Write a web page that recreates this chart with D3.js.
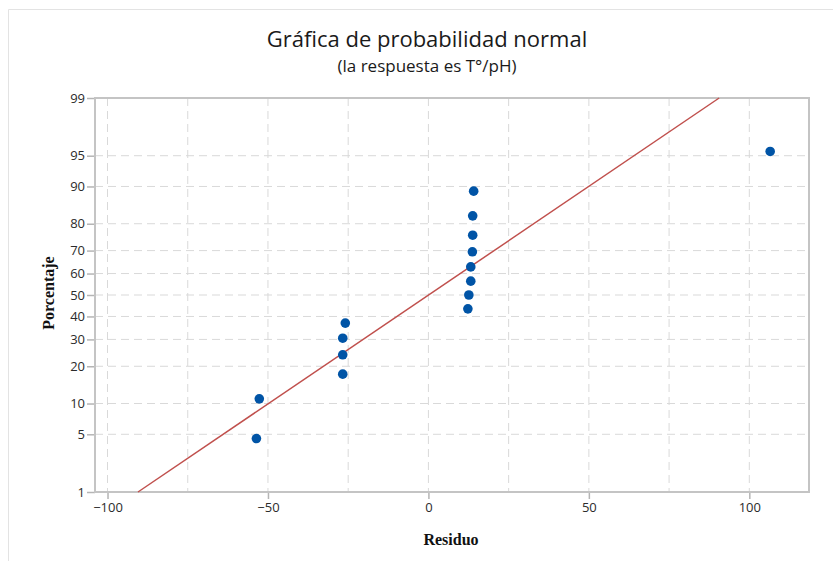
<!DOCTYPE html>
<html>
<head>
<meta charset="utf-8">
<script src="https://cdn.jsdelivr.net/npm/d3@7"></script>
<style>
  body { margin: 0; background: #fff; }
  svg { display: block; }
  .tick text { font-family: "Open Sans", "Noto Sans", sans-serif; font-size: 13px; fill: #2b2b2b; }
</style>
</head>
<body>
<div id="chart"></div>
<script>
// residuals (x) and plotted percentages (y)
const residuals = [-53.6, -52.7, -26.7, -26.7, -26.7, -25.9, 12.3, 12.6, 13.2, 13.2, 13.7, 13.8, 13.8, 14.1, 106.5];
const percents = [4.5, 11.0, 17.5, 24.0, 30.5, 37.0, 43.5, 50.0, 56.5, 63.0, 69.5, 76.0, 82.5, 89.0, 95.5];

// fitted normal line, end points at 1% and 99%
const fitResidual = [-90.5, 90.6];
const fitPercent = [1, 99];

const xTicks = [-100, -50, 0, 50, 100];
const xGrid = [-100, -75, -50, -25, 0, 25, 50, 75, 100];
const yTicks = [1, 5, 10, 20, 30, 40, 50, 60, 70, 80, 90, 95, 99];
const yGrid = [5, 10, 20, 30, 40, 50, 60, 70, 80, 90, 95];

const W = 833, H = 561;
const margin = { top: 98, right: 24, bottom: 69, left: 95 };
const width = W - margin.left - margin.right;
const height = H - margin.top - margin.bottom;

// inverse normal cdf (Acklam)
function probit(p) {
    const a = [-39.69683028665376, 220.9460984245205, -275.9285104469687, 138.3577518672690, -30.66479806614716, 2.506628277459239];
    const b = [-54.47609879822406, 161.5858368580409, -155.6989798598866, 66.80131188771972, -13.28068155288572];
    const c = [-0.007784894002430293, -0.3223964580411365, -2.400758277161838, -2.549732539343734, 4.374664141464968, 2.938163982698783];
    const d = [0.007784695709041462, 0.3224671290700398, 2.445134137142996, 3.754408661907416];
    const pl = 0.02425;
    let q, r;
    if (p < pl) {
        q = Math.sqrt(-2 * Math.log(p));
        return (((((c[0] * q + c[1]) * q + c[2]) * q + c[3]) * q + c[4]) * q + c[5]) /
            ((((d[0] * q + d[1]) * q + d[2]) * q + d[3]) * q + 1);
    }
    if (p > 1 - pl) {
        q = Math.sqrt(-2 * Math.log(1 - p));
        return -(((((c[0] * q + c[1]) * q + c[2]) * q + c[3]) * q + c[4]) * q + c[5]) /
            ((((d[0] * q + d[1]) * q + d[2]) * q + d[3]) * q + 1);
    }
    q = p - 0.5;
    r = q * q;
    return (((((a[0] * r + a[1]) * r + a[2]) * r + a[3]) * r + a[4]) * r + a[5]) * q /
        (((((b[0] * r + b[1]) * r + b[2]) * r + b[3]) * r + b[4]) * r + 1);
}

const svg = d3.select("#chart")
    .append("svg")
    .attr("width", W)
    .attr("height", H);

// outer frame (left and top edges only visible)
svg.append("path")
    .attr("d", `M8.5,${H} V9.5 H${W}`)
    .attr("fill", "none")
    .attr("stroke", "#e3e3e3")
    .attr("stroke-width", 1);

const g = svg.append("g")
    .attr("transform", `translate(${margin.left}, ${margin.top})`);

const x = d3.scaleLinear()
    .domain([-103.9, 118.6])
    .range([0, width]);

const z = d3.scaleLinear()
    .domain([probit(0.01), probit(0.99)])
    .range([height, 0]);
const y = p => z(probit(p / 100));

// grid
g.append("g")
    .selectAll("line")
    .data(xGrid)
    .enter()
    .append("line")
    .attr("x1", d => x(d))
    .attr("x2", d => x(d))
    .attr("y1", 0)
    .attr("y2", height)
    .attr("stroke", "#d9d9d9")
    .attr("stroke-width", 1)
    .attr("stroke-dasharray", "8,5");

g.append("g")
    .selectAll("line")
    .data(yGrid)
    .enter()
    .append("line")
    .attr("x1", 0)
    .attr("x2", width)
    .attr("y1", d => y(d))
    .attr("y2", d => y(d))
    .attr("stroke", "#d9d9d9")
    .attr("stroke-width", 1)
    .attr("stroke-dasharray", "8,5");

// axes
const xAxis = g.append("g")
    .attr("transform", `translate(0, ${height})`)
    .call(d3.axisBottom(x).tickValues(xTicks).tickSize(7).tickPadding(4).tickSizeOuter(0));

const yAxis = g.append("g")
    .call(d3.axisLeft(z).tickValues(yTicks.map(p => probit(p / 100)))
        .tickFormat((d, i) => yTicks[i]).tickSize(8).tickPadding(2).tickSizeOuter(0));

[xAxis, yAxis].forEach(a => {
    a.select(".domain").remove();
    a.selectAll(".tick line").attr("stroke", "#b5b5b5").attr("stroke-width", 1.5);
});

// frame
g.append("rect")
    .attr("x", 0)
    .attr("y", 0)
    .attr("width", width)
    .attr("height", height)
    .attr("fill", "none")
    .attr("stroke", "#c4c4c4")
    .attr("stroke-width", 2);

// fitted line
g.append("line")
    .attr("x1", x(fitResidual[0]))
    .attr("y1", y(fitPercent[0]))
    .attr("x2", x(fitResidual[1]))
    .attr("y2", y(fitPercent[1]))
    .attr("stroke", "#c0504d")
    .attr("stroke-width", 1.5);

// points
g.append("g")
    .selectAll("circle")
    .data(residuals)
    .enter()
    .append("circle")
    .attr("cx", d => x(d))
    .attr("cy", (d, i) => y(percents[i]))
    .attr("r", 4.8)
    .attr("fill", "#0054a6");

// titles
svg.append("text")
    .attr("x", 427)
    .attr("y", 47)
    .attr("text-anchor", "middle")
    .style("font-family", "'Open Sans', 'Noto Sans', sans-serif")
    .style("font-size", "22px")
    .style("fill", "#1a1a1a")
    .text("Gráfica de probabilidad normal");

svg.append("text")
    .attr("x", 427)
    .attr("y", 72)
    .attr("text-anchor", "middle")
    .style("font-family", "'Open Sans', 'Noto Sans', sans-serif")
    .style("font-size", "17px")
    .style("fill", "#1a1a1a")
    .text("(la respuesta es T°/pH)");

svg.append("text")
    .attr("x", 451)
    .attr("y", 545)
    .attr("text-anchor", "middle")
    .style("font-family", "'Liberation Serif', 'DejaVu Serif', serif")
    .style("font-weight", "bold")
    .style("font-size", "16px")
    .style("fill", "#111")
    .text("Residuo");

svg.append("text")
    .attr("transform", "translate(54, 293) rotate(-90)")
    .attr("text-anchor", "middle")
    .style("font-family", "'Liberation Serif', 'DejaVu Serif', serif")
    .style("font-weight", "bold")
    .style("font-size", "16px")
    .style("fill", "#111")
    .text("Porcentaje");
</script>
</body>
</html>
